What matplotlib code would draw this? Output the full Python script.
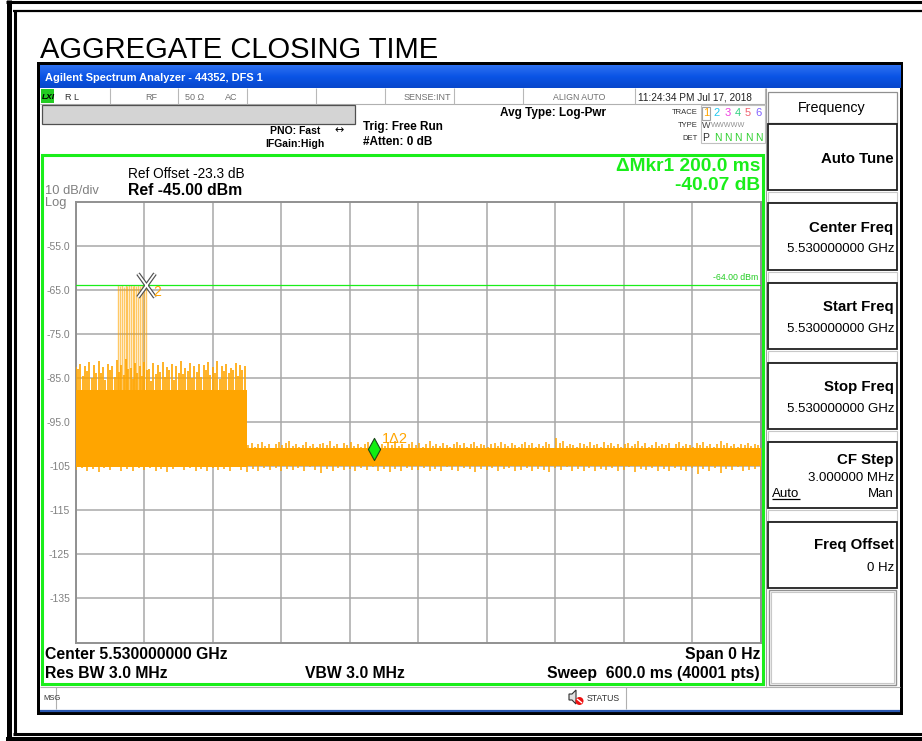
import numpy as np
import matplotlib
matplotlib.use('Agg')
import matplotlib.pyplot as plt
from matplotlib.patches import Rectangle, Circle, Polygon
from matplotlib.path import Path

# ---------------- data ----------------
sweep_ms = 600
ytick_db = [-135, -125, -115, -105, -95, -85, -75, -65, -55]
ytick_labels = ['-135', '-125', '-115', '-105', '-95.0', '-85.0', '-75.0', '-65.0', '-55.0']

burst_end_ms = 149.8
burst_core_db = (-105.2, -87.7)
idle_core_db = (-105.0, -100.9)

burst_pulse_ms = [36.7, 38.7, 40.5, 42.5, 44.0, 45.1, 46.6, 48.4, 49.9, 51.3, 52.8, 54.6, 56.3, 58.1, 59.8, 61.3]
burst_pulse_db = [-64.0, -64.1, -64.0, -64.3, -64.0, -64.1, -64.0, -63.9, -64.2, -64.0, -64.1, -64.0, -64.2, -64.0, -64.1, -63.9]

burst_peak_ms = list(range(0, 149, 2))
burst_peak_db = [
    -82.5, -83.0, -81.8, -84.6, -82.2, -83.5, -81.5, -85.0, -82.0, -83.8,
    -81.2, -84.0, -82.6, -85.5, -81.9, -83.2, -82.4, -84.8, -81.0, -83.6,
    -82.1, -84.3, -80.8, -83.0, -82.7, -85.2, -81.6, -83.9, -82.3, -84.5,
    -81.4, -83.3, -82.9, -85.8, -81.7, -84.1, -82.0, -83.7, -81.3, -84.9,
    -82.5, -83.1, -81.9, -85.4, -82.2, -83.8, -81.1, -84.2, -82.8, -83.4,
    -81.6, -85.1, -82.4, -83.6, -81.8, -84.7, -82.1, -83.2, -81.5, -84.4,
    -82.6, -83.9, -81.2, -85.3, -82.3, -83.5, -81.9, -84.0, -82.7, -83.3,
    -81.7, -84.6, -82.0, -83.1, -82.4]

idle_hi_ms = list(range(151, 599, 3))
idle_hi_db = [
    -100.2, -99.7, -100.6, -100.0, -99.5, -100.4, -99.9, -100.8, -100.1, -99.6,
    -100.3, -99.8, -99.4, -100.5, -100.0, -100.7, -100.2, -99.6, -100.4, -99.9,
    -100.6, -100.1, -99.7, -100.3, -99.3, -100.5, -100.0, -100.8, -99.8, -100.2,
    -99.6, -100.4, -99.9, -100.7, -100.1, -99.5, -100.3, -99.8, -100.6, -100.0,
    -100.4, -99.7, -100.2, -99.4, -100.5, -99.9, -100.8, -100.1, -99.6, -100.3,
    -99.8, -100.6, -100.0, -99.2, -100.4, -99.9, -100.5, -99.7, -100.2, -100.7,
    -100.1, -99.6, -100.3, -99.8, -100.6, -100.0, -99.5, -100.4, -99.9, -100.2,
    -100.7, -100.1, -99.7, -100.4, -99.6, -100.0, -100.5, -99.8, -100.3, -100.6,
    -99.9, -99.5, -100.2, -99.7, -100.6, -100.1, -100.4, -99.6, -100.0, -100.8,
    -98.6, -99.8, -99.4, -100.5, -99.9, -100.2, -100.7, -99.7, -100.1, -100.4,
    -99.6, -100.3, -100.0, -100.6, -99.5, -100.2, -99.8, -100.4, -99.9, -100.7,
    -100.1, -99.7, -100.5, -100.0, -99.3, -100.4, -99.8, -100.6, -100.2, -99.6,
    -100.4, -99.9, -100.3, -99.7, -100.8, -100.1, -99.5, -100.5, -100.0, -100.2,
    -100.6, -99.8, -100.3, -99.6, -100.4, -100.0, -100.7, -99.9, -99.4, -100.2,
    -99.7, -100.5, -100.1, -100.6, -99.9, -100.3, -99.8, -100.4, -100.0, -100.2]

trace_lo_ms = list(range(0, 601, 5))
trace_lo_db = [
    -105.8, -105.4, -106.1, -105.6, -106.3, -105.5, -105.9, -105.3, -106.0, -105.7,
    -106.2, -105.5, -105.8, -105.4, -106.1, -105.6, -106.4, -105.7, -105.3, -105.9,
    -105.5, -106.0, -105.7, -106.2, -105.4, -105.8, -105.6, -106.1, -105.3, -105.9,
    -106.3, -105.6, -106.0, -105.5, -105.8, -105.4, -106.2, -105.7, -105.9, -105.5,
    -106.1, -105.3, -105.8, -106.5, -105.6, -106.0, -105.4, -105.9, -105.7, -106.2,
    -105.5, -105.8, -105.3, -106.1, -105.6, -106.4, -105.7, -106.0, -105.4, -105.8,
    -105.9, -105.5, -106.2, -105.6, -106.0, -105.3, -105.8, -106.1, -105.5, -105.7,
    -106.3, -105.6, -105.9, -105.4, -106.1, -105.7, -105.5, -106.2, -105.8, -105.4,
    -106.0, -105.6, -105.8, -106.4, -105.5, -105.9, -105.3, -106.1, -105.7, -106.0,
    -105.4, -106.2, -105.6, -105.9, -105.5, -106.1, -105.8, -105.3, -106.3, -105.7,
    -105.9, -105.5, -106.0, -105.6, -106.2, -105.4, -105.8, -106.1, -105.5, -106.8,
    -105.6, -106.0, -105.4, -106.5, -105.7, -105.9, -105.3, -106.1, -105.8, -105.6,
    -105.8]

display_line_db = -64.0
mkr1_ms, mkr1_db = 261.4, -101.2
mkr2_ms, mkr2_db = 61.4, -63.9

# ---------------- styles ----------------
ORANGE = '#ffa500'
GREEN = '#1aee1a'
W, H = 922, 741
plt.rcParams['font.family'] = ['Liberation Sans', 'DejaVu Sans']

fig = plt.figure(figsize=(W / 100, H / 100), dpi=100)
fig.patch.set_facecolor('white')

bg = fig.add_axes([0, 0, 1, 1], zorder=0)
fg = fig.add_axes([0, 0, 1, 1], zorder=5)
for a in (bg, fg):
    a.set_xlim(0, W)
    a.set_ylim(H, 0)
    a.axis('off')
fg.patch.set_alpha(0)


def rect(x0, y0, x1, y1, fc='none', ec='none', lw=1.0, z=1, axx=None):
    (axx or bg).add_patch(Rectangle((x0, y0), x1 - x0, y1 - y0, facecolor=fc,
                                    edgecolor=ec, linewidth=lw, zorder=z))


def line(xs, ys, color='k', lw=1.0, z=2, axx=None):
    (axx or bg).plot(xs, ys, color=color, lw=lw, zorder=z, solid_capstyle='butt')


def txt(x, yc, s, size=8, color='black', weight='normal', ha='left', **kw):
    fg.text(x, yc + 0.497 * size, s, fontsize=size, color=color, fontweight=weight,
            ha=ha, va='baseline', zorder=10, **kw)


# outer document frame
line([8.5, 8.5], [0, 741], lw=3.6)
line([14.5, 14.5], [10, 735], lw=2.2)
line([6, 922], [1.5, 1.5], lw=2.2)
line([13, 922], [11, 11], lw=1.6)
line([13, 922], [733.5, 733.5], lw=2.2)
line([6, 922], [739, 739], lw=2.9)

txt(40, 47.5, 'AGGREGATE CLOSING TIME', size=21)

# screenshot frame
rect(37, 62, 903, 715, fc='black', z=1)
rect(40, 65, 900, 712, fc='white', z=1.2)

# blue title bar
grad = np.array([[0.18, 0.44, 0.94], [0.04, 0.33, 0.90], [0.03, 0.28, 0.80]])
gimg = np.interp(np.linspace(0, 2, 24), [0, 1, 2], [0, 1, 2])
cols = np.array([[np.interp(v, [0, 1, 2], grad[:, c]) for c in range(3)] for v in gimg])
bg.imshow(cols[:, None, :], extent=[40, 900, 88, 65], aspect='auto', zorder=1.5)
bg.set_xlim(0, W)
bg.set_ylim(H, 0)
txt(45, 77, 'Agilent Spectrum Analyzer - 44352, DFS 1', size=7.9, color='white', weight='bold')

# status row
line([40, 765], [104, 104], color='#b0b0b0', lw=0.8)
for xs in [110, 178, 247, 316, 385, 454, 523, 635, 765]:
    line([xs, xs], [88, 104], color='#b8b8b8', lw=0.8)
rect(40.5, 89, 54, 103, fc='#22cc22', z=2)
txt(41.5, 96.2, 'LXI', size=6, weight='bold', style='italic')
txt(65, 96.5, 'R L', size=6.5, color='#303030')
txt(145, 96.5, 'RF', size=6.5, color='#707070')
txt(185, 96.5, '50 Ω', size=6.5, color='#707070')
txt(225, 96.5, 'AC', size=6.5, color='#707070')
txt(451, 96.5, 'SENSE:INT', size=6.5, color='#707070', ha='right')
txt(553, 96.5, 'ALIGN AUTO', size=6.3, color='#707070')
txt(638, 96.5, '11:24:34 PM Jul 17, 2018', size=7.2, color='#202020')

# gray bar + acquisition settings
rect(42, 105, 355, 124, fc='#d4d4d4', ec='#505050', lw=0.9, z=2)
txt(270, 130, 'PNO: Fast', size=7.5, weight='bold')
txt(334, 129.5, '↔', size=8, family=['DejaVu Sans'])
txt(265, 143, 'IFGain:High', size=7.5, weight='bold')
txt(363, 126, 'Trig: Free Run', size=8.5, weight='bold')
txt(363, 141, '#Atten: 0 dB', size=8.5, weight='bold')
txt(500, 112, 'Avg Type: Log-Pwr', size=8.5, weight='bold')

# trace box
txt(698, 111.5, 'TRACE', size=5.5, ha='right', color='#303030')
txt(698, 124, 'TYPE', size=5.5, ha='right', color='#303030')
txt(698, 137.3, 'DET', size=5.5, ha='right', color='#303030')
rect(700.5, 104.5, 765, 143, fc='none', ec='#c0c0c0', lw=0.8, z=2)
rect(702, 106.5, 709.5, 119.5, fc='none', ec='#a0a0a0', lw=0.8, z=2)
trace_cols = ['#ffa500', '#22c8f0', '#f040e0', '#30d080', '#f06070', '#8060ff']
for i, c in enumerate(trace_cols):
    txt(703.3 + i * 10.4, 112.5, str(i + 1), size=8, color=c)
txt(702, 124.5, 'W', size=6.5, color='#404040')
txt(711, 124.5, 'WWWWW', size=5.2, color='#909090')
txt(702, 137.5, 'P', size=7.5, color='#303030')
for i in range(5):
    txt(713.7 + i * 10.4, 137.5, 'N', size=7.5, color='#30d030')

# main display panel (green)
rect(41.5, 154.5, 762.5, 684, fc='none', ec=GREEN, lw=2.2, z=3)
txt(128, 173.5, 'Ref Offset -23.3 dB', size=9.8)
txt(128, 189, 'Ref -45.00 dBm', size=11.3, weight='bold')
txt(45, 189.5, '10 dB/div', size=9.3, color='#808080')
txt(45, 201, 'Log', size=9.3, color='#808080')
txt(760, 164.5, 'ΔMkr1 200.0 ms', size=13.8, color=GREEN, weight='bold', ha='right')
txt(760, 183.5, '-40.07 dB', size=13.8, color=GREEN, weight='bold', ha='right')
txt(45, 653, 'Center 5.530000000 GHz', size=11.3, weight='bold')
txt(760, 653, 'Span 0 Hz', size=11.3, weight='bold', ha='right')
txt(45, 672, 'Res BW 3.0 MHz', size=11.3, weight='bold')
txt(305, 672, 'VBW 3.0 MHz', size=11.3, weight='bold')
txt(760, 672, 'Sweep  600.0 ms (40001 pts)', size=11.3, weight='bold', ha='right')

# message bar
line([40, 900], [686.5, 686.5], color='#b0b0b0', lw=0.8)
line([56, 56], [687, 709], color='#b0b0b0', lw=0.8)
line([626, 626], [687, 709], color='#b0b0b0', lw=0.8)
line([40, 900], [710.5, 710.5], color='#2a58b0', lw=1.6)
txt(43, 697.5, 'MSG', size=5.5, color='#303030')
txt(587, 697.5, 'STATUS', size=6.3, color='#303030')
bg.add_patch(Polygon([[569, 694], [572, 694], [576, 690], [576, 704], [572, 700], [569, 700]],
                     closed=True, fc='#e0e0e0', ec='#303030', lw=0.8, zorder=3))
bg.add_patch(Circle((579.5, 701), 4, fc='#ee1111', ec='none', zorder=4))
line([577, 582], [699, 703], color='white', lw=1.0, z=5)

# softkey panel
line([765.5, 765.5], [88, 686], color='#a0a0a0', lw=0.8)
rect(767.5, 92, 897, 123, fc='white', ec='#909090', lw=0.9, z=2)
txt(832, 106.5, 'Frequency', size=10.3, ha='center')
boxes = [(124, 190), (203, 270), (283, 349), (363, 429), (442, 508), (522, 588)]
prev = 123
for (y0, y1) in boxes:
    if y0 - prev > 4:
        rect(768, prev + 1.5, 896.5, y0 - 1.5, fc='white', ec='#c8c8c8', lw=0.8, z=2)
    rect(767.5, y0, 896.5, y1, fc='white', ec='#202020', lw=1.3, z=2.5)
    prev = y1
rect(768.5, 589.5, 895.5, 684.5, fc='white', ec='#909090', lw=1.0, z=2)
rect(770.5, 591.5, 893.5, 682.5, fc='none', ec='#c8c8c8', lw=0.8, z=2)
txt(893.5, 158, 'Auto Tune', size=10.8, weight='bold', ha='right')
txt(893.5, 226.5, 'Center Freq', size=10.8, weight='bold', ha='right')
txt(894, 247.5, '5.530000000 GHz', size=9.5, ha='right')
txt(893.5, 306, 'Start Freq', size=10.8, weight='bold', ha='right')
txt(894, 327, '5.530000000 GHz', size=9.5, ha='right')
txt(893.5, 385.5, 'Stop Freq', size=10.8, weight='bold', ha='right')
txt(894, 407, '5.530000000 GHz', size=9.5, ha='right')
txt(893.5, 459, 'CF Step', size=10.8, weight='bold', ha='right')
txt(894, 476, '3.000000 MHz', size=9.5, ha='right')
txt(772, 492.5, 'Auto', size=9.5)
line([772, 800], [498.5, 498.5], color='black', lw=0.9, z=3)
txt(894, 492.5, 'Man', size=9.5, ha='right')
txt(893.5, 544, 'Freq Offset', size=10.8, weight='bold', ha='right')
txt(894, 566.5, '0 Hz', size=9.5, ha='right')

# ---------------- graticule + trace ----------------
x0, x1, ytop, ybot = 75.8, 760.5, 201.5, 642.5
ax = fig.add_axes([x0 / W, 1 - ybot / H, (x1 - x0) / W, (ybot - ytop) / H], zorder=2)
ax.set_facecolor('white')
ax.set_xlim(0, sweep_ms)
ax.set_ylim(-145, -45)
ax.set_xticks(np.arange(0, sweep_ms + 1, 60))
ax.set_xticklabels([])
ax.set_yticks(ytick_db)
ax.set_yticklabels(ytick_labels, fontsize=7.5, color='#808080')
ax.tick_params(length=0, pad=4.2)
ax.grid(True, color='#a8a8a8', lw=1.1)
ax.set_axisbelow(True)
for s in ax.spines.values():
    s.set_color('#909090')
    s.set_linewidth(1.4)

ax.fill_between([0, burst_end_ms], burst_core_db[0], burst_core_db[1], color=ORANGE, lw=0, zorder=3)
ax.fill_between([burst_end_ms, sweep_ms], idle_core_db[0], idle_core_db[1], color=ORANGE, lw=0, zorder=3)
ax.vlines(burst_pulse_ms, burst_core_db[1], burst_pulse_db, color=ORANGE, lw=1.0, alpha=0.6, zorder=3)
ax.vlines(burst_peak_ms, burst_core_db[1] - 0.5, burst_peak_db, color=ORANGE, lw=1.4, alpha=0.85, zorder=3)
ax.vlines(idle_hi_ms, idle_core_db[1] - 0.3, idle_hi_db, color=ORANGE, lw=1.3, alpha=0.85, zorder=3)
lo_top = [burst_core_db[0] if t < burst_end_ms else idle_core_db[0] for t in trace_lo_ms]
ax.vlines(trace_lo_ms, np.array(lo_top) + 0.3, trace_lo_db, color=ORANGE, lw=1.3, alpha=0.85, zorder=3)

ax.axhline(display_line_db, color=GREEN, lw=0.9, zorder=4)
ax.text(597.8, display_line_db + 0.7, '-64.00 dBm', fontsize=6.3, color='#22cc22',
        ha='right', va='bottom', zorder=5)

diamond = Path([(0, 1), (0.55, 0), (0, -1), (-0.55, 0), (0, 1)],
               [Path.MOVETO, Path.LINETO, Path.LINETO, Path.LINETO, Path.CLOSEPOLY])
ax.plot([mkr1_ms], [mkr1_db], marker=diamond, ms=16, mfc='#11ee11', mec='#1a4a1a', mew=0.8,
        ls='none', zorder=6)
ax.annotate('1Δ2', xy=(mkr1_ms, mkr1_db), xytext=(5.5, 7.2), textcoords='offset points',
            fontsize=10.5, color=ORANGE, ha='left', va='center', zorder=6)

xmark = Path([(-0.72, -1), (0.72, 1), (-0.72, 1), (0.72, -1)],
             [Path.MOVETO, Path.LINETO, Path.MOVETO, Path.LINETO])
ax.plot([mkr2_ms], [mkr2_db], marker=xmark, ms=17, mec='#505050', mew=3.0, ls='none', zorder=6)
ax.plot([mkr2_ms], [mkr2_db], marker=xmark, ms=17, mec='white', mew=1.3, ls='none', zorder=7)
ax.annotate('2', xy=(mkr2_ms, mkr2_db), xytext=(8.0, -5.0), textcoords='offset points',
            fontsize=10, color=ORANGE, ha='center', va='center', zorder=7)

fig.savefig('out.png', dpi=100, facecolor='white')
